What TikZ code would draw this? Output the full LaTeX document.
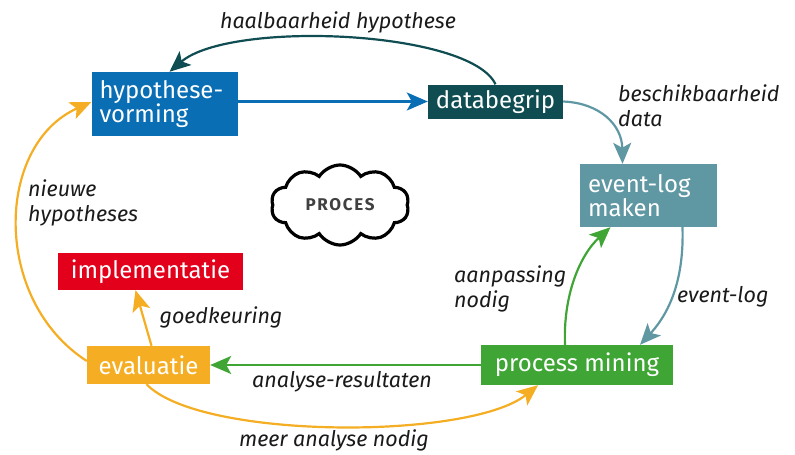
\documentclass[tikz,border=0pt]{standalone}
\usepackage{fontspec}
\setmainfont{Fira Sans}
\usetikzlibrary{arrows.meta,shapes.symbols,calc}
\definecolor{cblue}{HTML}{0A6EB4}
\definecolor{cdark}{HTML}{0F4D52}
\definecolor{cteal}{HTML}{5F98A3}
\definecolor{cred}{HTML}{E2001A}
\definecolor{corange}{HTML}{F5AE23}
\definecolor{cgreen}{HTML}{3FA535}
\definecolor{ctext}{HTML}{1A1A1A}
\tikzset{
  box/.style={rectangle, inner sep=0pt, text=white, font=\fontsize{24}{24}\selectfont},
  lbl/.style={inner sep=0pt, text=ctext, font=\fontsize{21.5}{25}\selectfont\itshape, align=left},
  conn/.style={line width=2.2pt, -{Stealth[length=21pt,width=18pt,inset=5pt]}},
}
\begin{document}
\begin{tikzpicture}[x=1pt,y=-1pt]
\useasboundingbox (0,0) rectangle (795,455);
% boxes
\node[box, fill=cblue, minimum width=146pt, minimum height=64pt, text width=130pt, align=left] (hyp) at (164.5,104) {hypothese-\\vorming};
\node[box, fill=cdark, minimum width=135pt, minimum height=34pt] (db) at (495.5,101.5) {databegrip};
\node[box, fill=cteal, minimum width=137pt, minimum height=63pt, text width=121pt, align=left] (el) at (648.5,195.5) {event-log\\maken};
\node[box, fill=cred, minimum width=185pt, minimum height=37pt] (impl) at (150.5,271.5) {implementatie};
\node[box, fill=corange, minimum width=123pt, minimum height=38pt] (ev) at (148.5,365) {evaluatie};
\node[box, fill=cgreen, minimum width=192pt, minimum height=40pt] (pm) at (577,365) {process mining};
% cloud
\node[cloud, cloud puffs=10, cloud puff arc=115, aspect=1.75, draw=black, line width=3.2pt, fill=white,
      minimum width=138pt, minimum height=80pt, inner sep=0pt,
      font=\fontsize{17}{17}\selectfont\bfseries\addfontfeature{LetterSpace=10}, text={black!75}] (cl) at (340,205) {PROCES};
% connectors
\draw[conn, cblue] (hyp.east |- db.west) -- (db.west);
\draw[conn, cdark] (db.north) .. controls (470,30) and (230,20) .. ($(hyp.north)+(5,0)$);
\draw[conn, cteal] (db.east) .. controls (600,103) and (622,125) .. ($(el.north)+(-26,0)$);
\draw[conn, cteal] ($(el.south)+(34,0)$) .. controls (684,275) and (672,310) .. ($(pm.north)+(63,0)$);
\draw[conn, cgreen] ($(pm.north)+(-12,0)$) .. controls (563,295) and (580,255) .. ($(el.south)+(-38,0)$);
\draw[conn, cgreen] (pm.west) -- (ev.east);
\draw[conn, corange] ($(ev.north)+(3,0)$) -- ($(impl.south)+(-15,0)$);
\draw[conn, corange] ($(ev.south)+(-2,0)$) .. controls (200,440) and (470,440) .. ($(pm.south)+(-39,0)$);
\draw[conn, corange] ($(ev.west)+(0,-4)$) .. controls (-8,300) and (-5,145) .. ($(hyp.west)+(0,-2)$);
% labels
\node[lbl] (l1) at (338,22) {haalbaarheid hypothese};
\node[lbl, anchor=west] (l2) at (618,106) {beschikbaarheid\\data};
\node[lbl, anchor=west] (l3) at (28,203) {nieuwe\\hypotheses};
\node[lbl] (l4) at (221,317) {goedkeuring};
\node[lbl, anchor=west] (l5) at (454,289) {aanpassing\\nodig};
\node[lbl, anchor=west] (l6) at (677,297) {event-log};
\node[lbl] (l7) at (342,382) {analyse-resultaten};
\node[lbl] (l8) at (334,440) {meer analyse nodig};
\end{tikzpicture}
\end{document}
